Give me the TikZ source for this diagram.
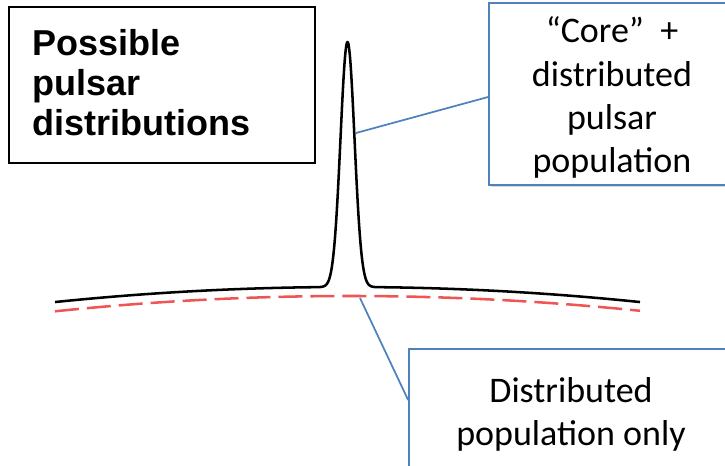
\documentclass[tikz,border=0pt]{standalone}
\usepackage{fontspec}
\setmainfont{Carlito}
\newfontfamily\titlefont{Liberation Sans}
\usetikzlibrary{shadows}
\definecolor{boxblue}{RGB}{79,129,189}
\definecolor{distred}{RGB}{240,85,85}
\begin{document}
\begin{tikzpicture}[x=0.75pt,y=-0.75pt,
  titlebox/.style={draw=black,line width=1.8pt,fill=white,inner sep=0pt},
  labelbox/.style={draw=boxblue,line width=1.3pt,fill=white,inner sep=0pt,
    drop shadow={shadow xshift=1.5pt,shadow yshift=-1.5pt,opacity=0.3}},
  titletext/.style={inner sep=0pt,align=left,font=\titlefont\bfseries\fontsize{27}{30}\selectfont},
  labeltext/.style={inner sep=0pt,align=center,font=\fontsize{27}{32.6}\selectfont},
  leader/.style={draw=boxblue,line width=1.3pt},
  core/.style={draw=black,line width=1.9pt,line join=round},
  distributed/.style={draw=distred,line width=1.9pt,dash pattern=on 18pt off 6pt}
]
\useasboundingbox (0,0) rectangle (725,466);
% title
\node[titlebox,minimum width=229.5pt,minimum height=117pt] (tbox) at (162,85) {};
\node[titletext,anchor=base west] (ttext) at (32,136) {Possible\\pulsar\\distributions};
% curves
\draw[distributed] plot[domain=55:640,samples=120] (\x,{296+15*((\x-350)/292)^2});
\draw[core] plot[domain=55:317,samples=60] (\x,{287+15*((\x-347.5)/292)^2})
  -- plot[domain=317:378,samples=150] (\x,{287+15*((\x-347.5)/292)^2-245*exp(-((\x-347.5)^2)/98)})
  -- plot[domain=378:640,samples=60] (\x,{287+15*((\x-347.5)/292)^2});
\coordinate (peakpt) at (356,133);
\coordinate (basept) at (360,298);
% label boxes
\node[labelbox,minimum width=188.25pt,minimum height=136.5pt] (cbox) at (614.5,94) {};
\node[labeltext,anchor=base] (ctext) at (612,173) {“Core”\ \ +\\distributed\\pulsar\\population};
\node[labelbox,minimum width=248.25pt,minimum height=105.75pt] (dbox) at (574.5,419.5) {};
\node[labeltext,anchor=base] (dtext) at (571,446) {Distributed\\population only};
% leaders
\draw[leader] (peakpt) -- ([yshift=-2.25pt]cbox.west);
\draw[leader] (basept) -- ([yshift=14.6pt]dbox.west);
\end{tikzpicture}
\end{document}
